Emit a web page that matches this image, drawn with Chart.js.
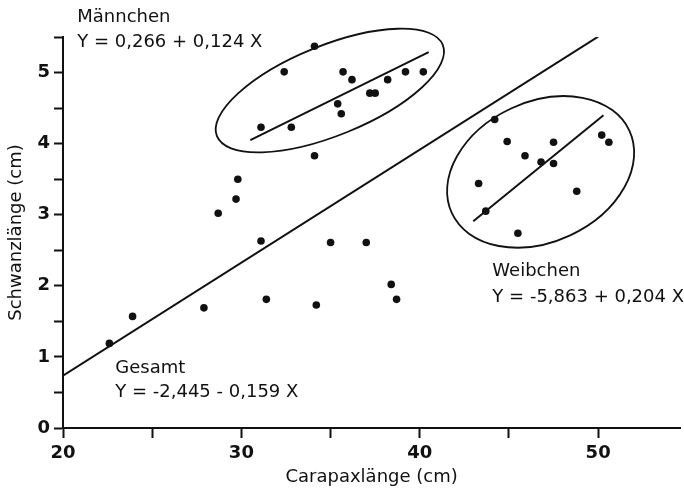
<!DOCTYPE html>
<html>
<head>
<meta charset="utf-8">
<script src="https://cdn.jsdelivr.net/npm/chart.js@4"></script>
<style>
  html, body { margin: 0; padding: 0; background: #fff; }
  canvas { display: block; }
</style>
</head>
<body>
<canvas id="chart" width="684" height="492"></canvas>
<script>
// Carapaxlänge (cm) vs. Schwanzlänge (cm)
const maleX = [31.1, 32.8, 32.4, 34.1, 35.7, 36.2, 35.4, 35.6, 37.2, 37.5, 38.2, 39.2, 40.2];
const maleY = [4.23, 4.23, 5.01, 5.37, 5.01, 4.90, 4.56, 4.42, 4.71, 4.71, 4.90, 5.01, 5.01];

const femaleX = [44.2, 44.9, 47.5, 45.9, 46.8, 47.5, 50.2, 50.6, 43.3, 48.8, 43.7, 45.5];
const femaleY = [4.34, 4.03, 4.02, 3.83, 3.74, 3.72, 4.12, 4.02, 3.44, 3.33, 3.05, 2.74];

const otherX = [22.6, 23.9, 27.9, 31.4, 34.2, 31.1, 35.0, 37.0, 38.4, 38.7, 28.7, 29.7, 29.8, 34.1];
const otherY = [1.19, 1.57, 1.69, 1.81, 1.73, 2.63, 2.61, 2.61, 2.02, 1.81, 3.02, 3.22, 3.50, 3.83];

// regression lines: [intercept, slope], fitted x range
const fitNames = ['Gesamt', 'Männchen', 'Weibchen'];
const fitCoef = [[-2.445, 0.159], [0.266, 0.124], [-5.863, 0.204]];
const fitRange = [[20, 50], [30.5, 40.5], [43.0, 50.3]];
const fitLabels = ['Y = -2,445 - 0,159 X', 'Y = 0,266 + 0,124 X', 'Y = -5,863 + 0,204 X'];

const xTicks = [20, 30, 40, 50];
const yTicks = [0, 1, 2, 3, 4, 5];

const FONT = '"DejaVu Sans", "Liberation Sans", Arial, sans-serif';

function toPoints(xs, ys) {
  return xs.map((x, i) => ({ x, y: ys[i] }));
}

function fitLine(i) {
  const [a, b] = fitCoef[i];
  return fitRange[i].map(x => ({ x, y: a + b * x }));
}

const dotStyle = {
  showLine: false,
  pointRadius: 3.8,
  pointBackgroundColor: '#111',
  pointBorderWidth: 0,
  pointHoverRadius: 3.8
};

const lineStyle = {
  showLine: true,
  pointRadius: 0,
  borderColor: '#111',
  borderWidth: 2,
  fill: false
};

// enclosing ellipses: major axis ends (data units), half minor axis (px)
const groupRings = [
  { from: [28.63, 4.105], to: [41.29, 5.389], half: 45 },
  { from: [41.80, 3.021], to: [51.75, 4.184], half: 70 }
];

// caption positions in data units (left edge, baseline)
const captions = [
  { x: 20.8, y: 5.711, text: 'Männchen' },
  { x: 20.8, y: 5.359, text: fitLabels[1] },
  { x: 22.93, y: 0.774, text: 'Gesamt' },
  { x: 22.93, y: 0.436, text: fitLabels[0] },
  { x: 44.07, y: 2.138, text: 'Weibchen' },
  { x: 44.07, y: 1.772, text: fitLabels[2] }
];

const overlays = {
  id: 'overlays',
  afterDatasetsDraw(chart) {
    const { ctx, scales: { x, y } } = chart;
    ctx.save();
    ctx.strokeStyle = '#111';
    ctx.lineWidth = 1.8;
    groupRings.forEach(r => {
      const x1 = x.getPixelForValue(r.from[0]), y1 = y.getPixelForValue(r.from[1]);
      const x2 = x.getPixelForValue(r.to[0]), y2 = y.getPixelForValue(r.to[1]);
      const cx = (x1 + x2) / 2, cy = (y1 + y2) / 2;
      const a = Math.hypot(x2 - x1, y2 - y1) / 2;
      const ang = Math.atan2(y2 - y1, x2 - x1);
      ctx.beginPath();
      ctx.ellipse(cx, cy, a, r.half, ang, 0, Math.PI * 2);
      ctx.stroke();
    });
    ctx.fillStyle = '#111';
    ctx.font = '18px ' + FONT;
    ctx.textAlign = 'left';
    ctx.textBaseline = 'alphabetic';
    captions.forEach(c => {
      ctx.fillText(c.text, x.getPixelForValue(c.x), y.getPixelForValue(c.y));
    });
    ctx.restore();
  }
};

new Chart(document.getElementById('chart'), {
  type: 'scatter',
  data: {
    datasets: [
      { label: 'Männchen', data: toPoints(maleX, maleY), ...dotStyle },
      { label: 'Weibchen', data: toPoints(femaleX, femaleY), ...dotStyle },
      { label: 'übrige', data: toPoints(otherX, otherY), ...dotStyle },
      { label: fitNames[0], data: fitLine(0), ...lineStyle },
      { label: fitNames[1], data: fitLine(1), ...lineStyle },
      { label: fitNames[2], data: fitLine(2), ...lineStyle }
    ]
  },
  options: {
    responsive: false,
    animation: false,
    layout: { padding: { top: 37, left: 0, right: -5, bottom: 0 } },
    plugins: {
      legend: { display: false },
      tooltip: { enabled: false }
    },
    scales: {
      x: {
        type: 'linear',
        min: 20,
        max: 54.6,
        afterFit(scale) { scale.height = 64; },
        border: { display: true, color: '#111', width: 2 },
        grid: { drawOnChartArea: false, drawTicks: true, tickLength: 10, color: '#111', tickWidth: 2 },
        ticks: {
          stepSize: 5,
          padding: 5,
          color: '#111',
          font: { family: FONT, size: 18, weight: 'bold' },
          callback: v => xTicks.includes(v) ? String(v) : (v % 5 === 0 ? '' : null)
        },
        title: {
          display: true,
          text: 'Carapaxlänge (cm)',
          color: '#111',
          padding: { top: 0, bottom: 4 },
          font: { family: FONT, size: 18 }
        }
      },
      y: {
        type: 'linear',
        min: 0,
        max: 5.5,
        afterFit(scale) { scale.width = 63; },
        border: { display: true, color: '#111', width: 2 },
        grid: { drawOnChartArea: false, drawTicks: true, tickLength: 9, color: '#111', tickWidth: 2 },
        ticks: {
          stepSize: 0.5,
          padding: 4,
          color: '#111',
          font: { family: FONT, size: 18, weight: 'bold' },
          callback: v => yTicks.includes(v) ? String(v) : ''
        },
        title: {
          display: true,
          text: 'Schwanzlänge (cm)',
          color: '#111',
          padding: { top: 6, bottom: 0 },
          font: { family: FONT, size: 18 }
        }
      }
    }
  },
  plugins: [overlays]
});
</script>
</body>
</html>
